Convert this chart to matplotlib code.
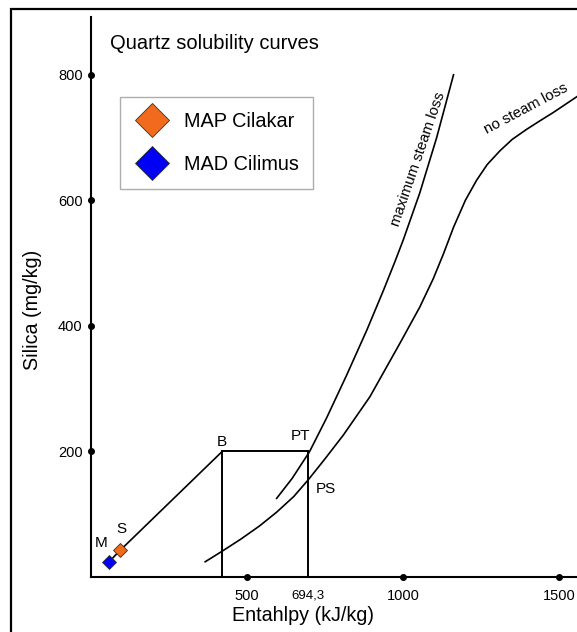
import matplotlib
matplotlib.use("Agg")
import matplotlib.pyplot as plt
from matplotlib.patches import Rectangle

plt.rcParams['font.family'] = ['Liberation Sans', 'DejaVu Sans']

# sample points
sample_names = ['MAP Cilakar', 'MAD Cilimus']
sample_colors = ['#F26A1B', '#0000F5']
sample_enthalpy = [93, 58]
sample_silica = [42, 24]

# construction points (B and PT)
box_enthalpy = [421, 694.3]
box_silica = 200

# quartz solubility curves
max_loss_h = [595, 645, 700, 755, 820, 884, 937, 974, 1001, 1054, 1108, 1162]
max_loss_si = [125, 157, 199, 253, 322, 393, 456, 502, 537, 612, 700, 800]
no_loss_h = [366, 421, 480, 540, 595, 650, 697, 750, 809, 894, 990, 1054,
             1097, 1130, 1162, 1200, 1236, 1270, 1311, 1350, 1396, 1440, 1482, 1557]
no_loss_si = [24, 41, 60, 81, 103, 128, 155, 188, 226, 287, 372, 430,
              475, 515, 557, 600, 632, 657, 679, 697, 713, 727, 740, 765]

x_ticks = [500, 694.3, 1000, 1500]
x_tick_labels = ['500', '694,3', '1000', '1500']
y_ticks = [200, 400, 600, 800]

fig = plt.figure(figsize=(5.77, 6.32), dpi=100)
ax = fig.add_axes([0.1577, 0.0873, 0.8435, 0.8857])
ax.set_xlim(0, 1560)
ax.set_ylim(0, 892)

lw = 1.2
# curves
ax.plot(max_loss_h, max_loss_si, color='black', lw=lw)
ax.plot(no_loss_h, no_loss_si, color='black', lw=lw)

# mixing line M -> S -> B, box to PT
ax.plot([sample_enthalpy[1], sample_enthalpy[0], box_enthalpy[0]],
        [sample_silica[1], sample_silica[0], box_silica], color='black', lw=lw)
ax.plot(box_enthalpy, [box_silica, box_silica], color='black', lw=1.4)
for h in box_enthalpy:
    ax.plot([h, h], [0, box_silica], color='black', lw=1.4)

for name, c, h, si in zip(sample_names, sample_colors, sample_enthalpy, sample_silica):
    ax.plot(h, si, 'D', color=c, mec='#333333', mew=0.6, ms=6.8, label=name, zorder=5)

# point labels
ax.text(sample_enthalpy[0] + 5, sample_silica[0] + 34, 'S', fontsize=11, ha='center', va='center')
ax.text(sample_enthalpy[1] - 24, sample_silica[1] + 30, 'M', fontsize=11, ha='center', va='center')
ax.text(box_enthalpy[0] - 2, box_silica + 15, 'B', fontsize=11, ha='center', va='center')
ax.text(box_enthalpy[1] - 24, box_silica + 24, 'PT', fontsize=11, ha='center', va='center')
ax.text(box_enthalpy[1] + 60, box_silica - 60, 'PS', fontsize=11, ha='center', va='center')

ax.text(1048, 666, 'maximum steam loss', fontsize=10.8, rotation=71,
        ha='center', va='center', rotation_mode='anchor')
ax.text(1394, 746, 'no steam loss', fontsize=10.8, rotation=28,
        ha='center', va='center', rotation_mode='anchor')
ax.text(61, 850, 'Quartz solubility curves', fontsize=14.5, ha='left', va='center')

# axes look
for s in ['top', 'right']:
    ax.spines[s].set_visible(False)
for s in ['left', 'bottom']:
    ax.spines[s].set_linewidth(1.5)
ax.set_xticks(x_ticks)
ax.set_xticklabels(x_tick_labels)
ax.set_yticks(y_ticks)
ax.tick_params(axis='both', length=0, labelsize=10.5)
ax.tick_params(axis='x', pad=9)
ax.tick_params(axis='y', pad=6)
ax.get_xticklabels()[1].set_fontsize(9.5)
dot_x = [t for t in x_ticks if t != 694.3]
ax.plot(dot_x, [0] * len(dot_x), 'o', color='black', ms=4, clip_on=False, zorder=6)
ax.plot([0] * len(y_ticks), y_ticks, 'o', color='black', ms=4, clip_on=False, zorder=6)

ax.set_xlabel('Entahlpy (kJ/kg)', fontsize=14.2)
ax.set_ylabel('Silica (mg/kg)', fontsize=14.2)
ax.xaxis.set_label_coords(0.4356, -0.052)
ax.yaxis.set_label_coords(-0.1, 0.477)

leg = ax.legend(loc='upper left', bbox_to_anchor=(0.0596, 0.857), markerscale=2.5,
                fontsize=14.3, fancybox=False, edgecolor='#999999',
                handletextpad=0.75, borderpad=0.75, labelspacing=1.2, handlelength=1.7,
                borderaxespad=0)
leg.get_frame().set_linewidth(1.0)

# outer frame of the picture
fig.patches.append(Rectangle((0.0185, -0.2), 1.5, 1.185, transform=fig.transFigure,
                             fill=False, edgecolor='black', lw=1.6, clip_on=False))

fig.savefig('out.png', dpi=100)
